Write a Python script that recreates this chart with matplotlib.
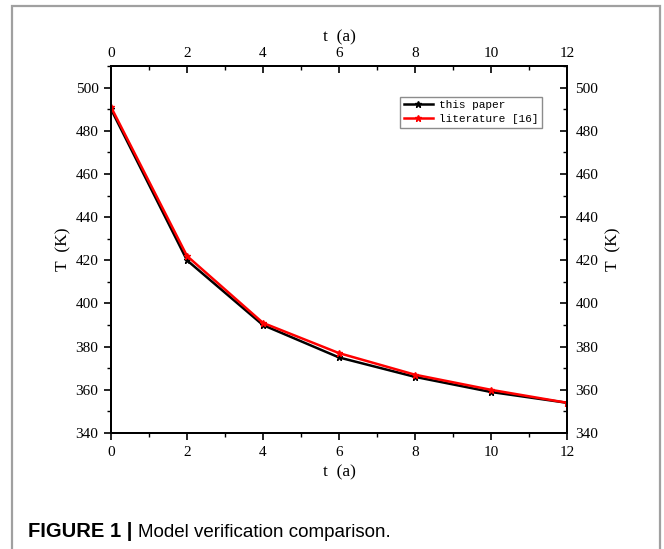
import matplotlib
matplotlib.use("Agg")
import matplotlib.pyplot as plt
from matplotlib.ticker import MultipleLocator
from matplotlib.patches import Rectangle

# Data
t_years = [0, 2, 4, 6, 8, 10, 12]
T_this_paper = [490, 420, 390, 375, 366, 359, 354]
T_literature = [491, 422, 391, 377, 367, 360, 354]
series_labels = ["this paper", "literature [16]"]
x_label = "t\u2002(a)"
y_label = "T\u2002(K)"
caption_bold = "FIGURE 1 | "
caption_text = "Model verification comparison."

W, H = 664, 549
fig = plt.figure(figsize=(W / 100, H / 100), dpi=100)
serif = "Liberation Serif"

# outer gray frame
fig.add_artist(Rectangle((12 / W, -0.05), (660 - 12) / W, 1.05 - 6 / H,
                         transform=fig.transFigure, fill=False,
                         edgecolor="#a0a0a0", linewidth=1.6))

ax = fig.add_axes([111 / W, 1 - 433 / H, (567 - 111) / W, (433 - 66) / H])
ax.plot(t_years, T_this_paper, color="black", lw=1.8, marker="*", ms=5,
        label=series_labels[0])
ax.plot(t_years, T_literature, color="#ff0000", lw=1.8, marker="*", ms=5,
        label=series_labels[1])

ax.set_xlim(0, 12)
ax.set_ylim(340, 510)
ax.xaxis.set_major_locator(MultipleLocator(2))
ax.xaxis.set_minor_locator(MultipleLocator(1))
ax.yaxis.set_major_locator(MultipleLocator(20))
ax.yaxis.set_minor_locator(MultipleLocator(10))
ax.tick_params(which="major", direction="out", length=5, width=1.2,
               labelsize=11, pad=4)
ax.tick_params(which="minor", direction="out", length=3, width=1.0)
for lab in ax.get_xticklabels() + ax.get_yticklabels():
    lab.set_fontfamily(serif)
for sp in ax.spines.values():
    sp.set_linewidth(1.4)
ax.set_xlabel(x_label, fontsize=12.5, fontfamily=serif, labelpad=4)
ax.set_ylabel(y_label, fontsize=12.5, fontfamily=serif, labelpad=3)

# top axis
axt = ax.twiny()
axt.set_xlim(ax.get_xlim())
axt.xaxis.set_major_locator(MultipleLocator(2))
axt.xaxis.set_minor_locator(MultipleLocator(1))
axt.tick_params(which="major", direction="in", length=5, width=1.2,
                labelsize=11, pad=4)
axt.tick_params(which="minor", direction="in", length=3, width=1.0)
for lab in axt.get_xticklabels():
    lab.set_fontfamily(serif)
axt.set_xlabel(x_label, fontsize=12.5, fontfamily=serif, labelpad=4)

# right axis
axr = ax.twinx()
axr.set_ylim(ax.get_ylim())
axr.yaxis.set_major_locator(MultipleLocator(20))
axr.yaxis.set_minor_locator(MultipleLocator(10))
axr.tick_params(which="major", direction="in", length=5, width=1.2,
                labelsize=11, pad=6)
axr.tick_params(which="minor", direction="in", length=3, width=1.0)
for lab in axr.get_yticklabels():
    lab.set_fontfamily(serif)
axr.set_ylabel(y_label, fontsize=12.5, fontfamily=serif, labelpad=5,
               rotation=90)
for a in (axt, axr):
    for sp in a.spines.values():
        sp.set_linewidth(1.4)

# legend
leg = axr.legend(*ax.get_legend_handles_labels(),
                 loc="upper right",
                 bbox_to_anchor=(542 / W, 1 - 97 / H),
                 bbox_transform=fig.transFigure,
                 prop={"family": "Liberation Mono", "size": 8},
                 frameon=True, fancybox=False, handlelength=2.6,
                 borderpad=0.3, labelspacing=0.35, handletextpad=0.6,
                 borderaxespad=0)
leg.get_frame().set_edgecolor("#707070")
leg.get_frame().set_linewidth(1.0)

# caption
t1 = fig.text(28 / W, 1 - 537 / H, caption_bold, fontsize=14.5,
              fontfamily="Liberation Sans", fontweight="bold",
              ha="left", va="baseline")
fig.canvas.draw()
bb = t1.get_window_extent()
fig.text(bb.x1 / W, 1 - 537 / H, caption_text, fontsize=13.5,
         fontfamily="Liberation Sans", ha="left", va="baseline")

fig.savefig("out.png", dpi=100)
